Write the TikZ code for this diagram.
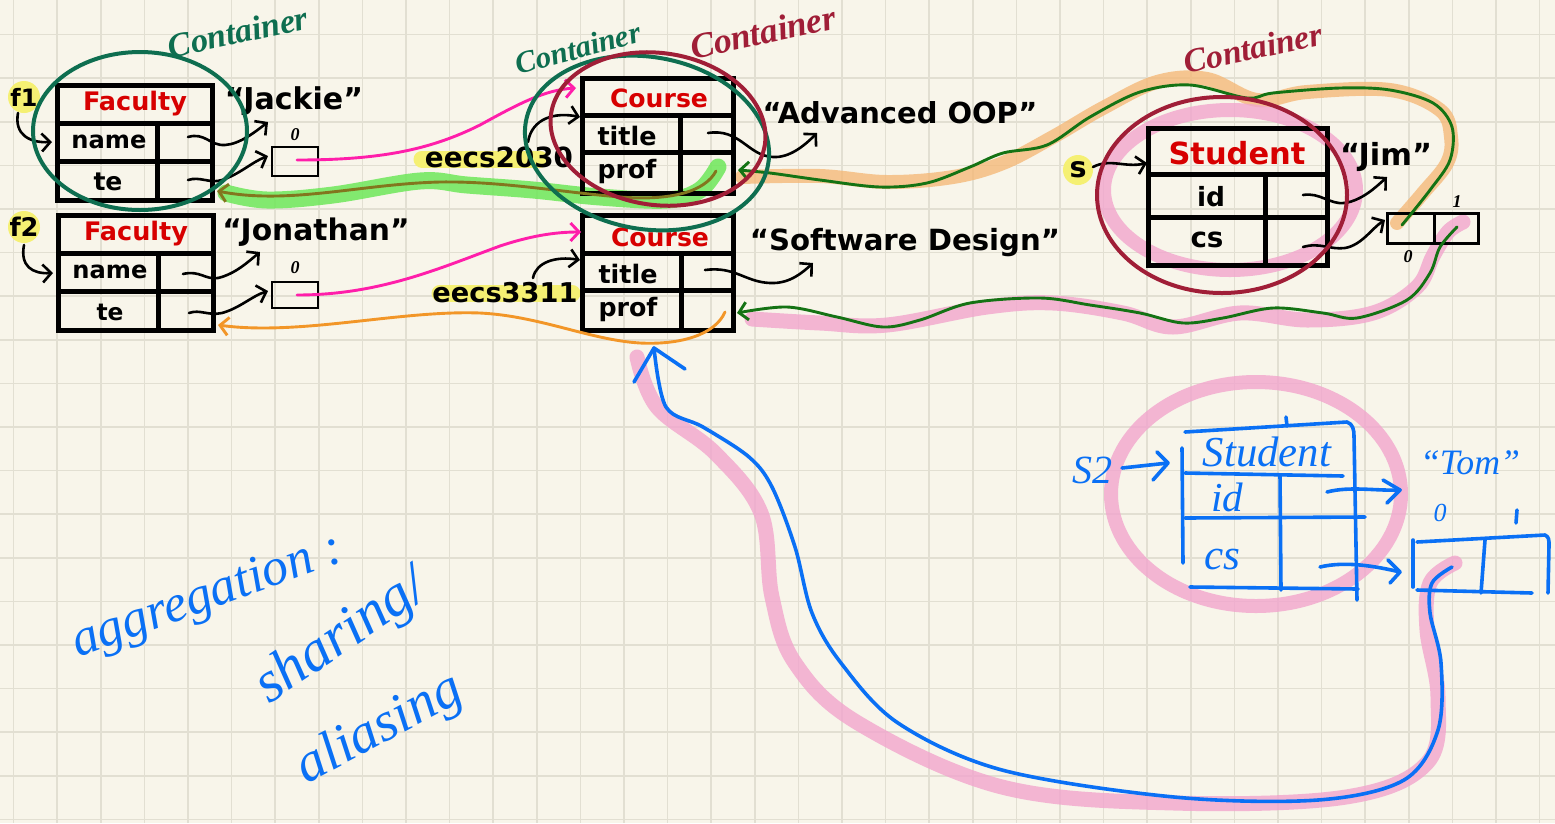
\documentclass[tikz,border=0pt]{standalone}
\usepackage{fontspec}
\setmainfont{DejaVu Sans}
\newfontfamily\handfont{Liberation Serif}
\usetikzlibrary{arrows.meta}

\definecolor{paper}{RGB}{248,245,234}
\definecolor{gridc}{RGB}{226,223,210}
\definecolor{objred}{RGB}{215,0,0}
\definecolor{contgreen}{RGB}{14,110,80}
\definecolor{contred}{RGB}{160,30,55}
\definecolor{linkgreen}{RGB}{20,115,20}
\definecolor{mag}{RGB}{255,30,170}
\definecolor{orng}{RGB}{242,150,40}
\definecolor{olivelink}{RGB}{130,118,30}
\definecolor{hlgreen}{RGB}{110,232,90}
\definecolor{hlorange}{RGB}{245,182,115}
\definecolor{hlpink}{RGB}{242,165,205}
\definecolor{hlyellow}{RGB}{245,240,115}
\definecolor{ink}{RGB}{10,112,245}

\newcommand\fitbox[2]{\resizebox{#1pt}{!}{#2}}

\tikzset{
  objbox/.style={draw=black, line width=5pt},
  cell/.style={draw=black, line width=2.6pt},
  lbl/.style={inner sep=0pt, font=\bfseries},
  barb/.tip={Straight Barb[length=8.5pt,width=18pt]},
  ptr/.style={black, line width=2.6pt, line cap=round, -barb},
  thinlink/.style={line width=2.9pt, line cap=round, -barb},
  marker/.style={line cap=round, line join=round},
  contell/.style={line width=4pt},
  hand/.style={inner sep=0pt, font=\handfont\itshape},
  inkline/.style={ink, line width=3.6pt, line cap=round, line join=round}
}

\begin{document}
\begin{tikzpicture}[x=1pt,y=-1pt]
\useasboundingbox (0,0) rectangle (1555,823);
\fill[paper] (0,0) rectangle (1555,823);
\foreach \k in {0,...,35} \draw[gridc, line width=1.6pt] ({13.5+43.6*\k},0) -- ({13.5+43.6*\k},823);
\foreach \k in {0,...,18} \draw[gridc, line width=1.6pt] (0,{34.5+43.6*\k}) -- (1555,{34.5+43.6*\k});

% ---------- anchors of the slots ----------
\coordinate (f1name) at (188,137);
\coordinate (f1te)   at (188,180);
\coordinate (f1teR)  at (217,191);
\coordinate (f2name) at (183,274);
\coordinate (f2te)   at (189,313);
\coordinate (f2teR)  at (218,325);
\coordinate (arr1)   at (297,160);
\coordinate (arr2)   at (297,295);
\coordinate (c1head) at (576,88);
\coordinate (c2head) at (581,232);
\coordinate (c1title) at (708,133);
\coordinate (c2title) at (705,270);
\coordinate (c1prof) at (716,171);
\coordinate (c1profR) at (738,170);
\coordinate (c2prof) at (725,312);
\coordinate (c2profR) at (737,313);
\coordinate (sid) at (1303,195);
\coordinate (scs) at (1303,247);
\coordinate (sa0) at (1402,225);
\coordinate (sa1) at (1457,227);

% ---------- highlighter strokes ----------
\fill[hlyellow] (24,97) circle [radius=16];
\fill[hlyellow] (24,227) circle [radius=16];
\fill[hlyellow] (1078,170) circle [radius=15];
\draw[hlyellow, line width=17pt, line cap=round] (422,159) -- (540,159);
\draw[hlyellow, line width=17pt, line cap=round] (440,293) -- (572,293);

\draw[hlgreen, opacity=0.85, marker, line width=17pt]
  plot[smooth, tension=0.6] coordinates {(718,167) (700,190) (667,200) (600,197) (533,190) (467,185) (420,181) (333,195) (267,200) (226,193)};

\draw[hlorange, opacity=0.75, marker, line width=14pt]
  plot[smooth, tension=0.6] coordinates {(742,177) (820,176) (887,182) (953,177) (1003,163) (1053,137) (1103,108) (1157,82) (1207,79) (1257,100) (1307,92) (1390,90) (1440,110) (1451,137) (1447,163) (1423,193) (1397,223)};

\draw[hlpink, opacity=0.8, marker, line width=15pt]
  plot[smooth, tension=0.6] coordinates {(1463,222) (1448,232) (1433,256) (1417,287) (1373,313) (1307,320) (1240,313) (1173,327) (1123,313) (1053,303) (987,307) (887,325) (820,323) (752,319)};

\draw[hlpink, opacity=0.8, line width=14pt] (1230,190) ellipse [x radius=126, y radius=80];
\draw[hlpink, opacity=0.8, line width=14pt] (1256,494) ellipse [x radius=145, y radius=112];

\draw[hlpink, opacity=0.8, marker, line width=15pt]
  plot[smooth, tension=0.6] coordinates {(1455,563) (1430,583) (1427,630) (1438,697) (1427,763) (1346,797) (1174,803) (1002,787) (858,723) (795,663) (772,597) (761,513) (715,453) (657,407) (637,357)};

% ---------- Faculty objects ----------
\draw[objbox] (57,85) rectangle (212,200);
\draw[objbox] (57,123) -- (212,123) (57,161) -- (212,161) (157,123) -- (157,200);
\node[lbl, text=objred] (fac1) at (135,104) {\fitbox{104}{Faculty}};
\node[lbl] (f1n) at (109,142) {\fitbox{75}{name}};
\node[lbl] (f1t) at (108,182) {\fitbox{29}{te}};

\draw[objbox] (58,215) rectangle (213,330);
\draw[objbox] (58,253) -- (213,253) (58,291) -- (213,291) (158,253) -- (158,330);
\node[lbl, text=objred] (fac2) at (136,234) {\fitbox{104}{Faculty}};
\node[lbl] (f2n) at (110,272) {\fitbox{75}{name}};
\node[lbl] (f2t) at (110,312) {\fitbox{27}{te}};

\node[lbl] (f1lab) at (24,97) {\fitbox{27}{f1}};
\node[lbl] (f2lab) at (24,227) {\fitbox{29}{f2}};

\node[lbl] (jackie) at (294,101) {\fitbox{138}{“Jackie”}};
\node[lbl] (jonathan) at (316,232) {\fitbox{187}{“Jonathan”}};

\draw[cell] (272,147) rectangle (318,176);
\draw[cell] (272,282) rectangle (318,308);
\node[hand, font=\handfont\itshape\bfseries\fontsize{18}{18}\selectfont] (z1) at (295,135) {0};
\node[hand, font=\handfont\itshape\bfseries\fontsize{18}{18}\selectfont] (z2) at (295,268) {0};

% ---------- Course objects ----------
\draw[objbox] (582,78) rectangle (733,193);
\draw[objbox] (582,115) -- (733,115) (582,152) -- (733,152) (680,115) -- (680,193);
\node[lbl, text=objred] (crs1) at (659,98) {\fitbox{98}{Course}};
\node[lbl] (c1t) at (627,136) {\fitbox{59}{title}};
\node[lbl] (c1p) at (627,172) {\fitbox{59}{prof}};

\draw[objbox] (582,215) rectangle (733,330);
\draw[objbox] (582,253) -- (733,253) (582,290) -- (733,290) (681,253) -- (681,330);
\node[lbl, text=objred] (crs2) at (660,237) {\fitbox{98}{Course}};
\node[lbl] (c2t) at (628,274) {\fitbox{59}{title}};
\node[lbl] (c2p) at (628,310) {\fitbox{59}{prof}};

\node[lbl] (e2030) at (499,157) {\fitbox{148}{eecs2030}};
\node[lbl] (e3311) at (505,293) {\fitbox{145}{eecs3311}};
\node[lbl] (aoop) at (900,113) {\fitbox{275}{“Advanced OOP”}};
\node[lbl] (sd) at (905,243) {\fitbox{310}{“Software Design”}};

% ---------- Student object ----------
\draw[objbox] (1148,128) rectangle (1327,265);
\draw[objbox] (1148,174) -- (1327,174) (1148,217) -- (1327,217) (1265,174) -- (1265,265);
\node[lbl, text=objred] (stu) at (1237,153) {\fitbox{137}{Student}};
\node[lbl] (sidl) at (1211,197) {\fitbox{28}{id}};
\node[lbl] (scsl) at (1207,240) {\fitbox{33}{cs}};
\node[lbl] (slab) at (1078,170) {\fitbox{17}{s}};
\node[lbl] (jim) at (1386,157) {\fitbox{92}{“Jim”}};
\draw[cell, line width=3pt] (1387,213) rectangle (1478,243);
\draw[cell, line width=3pt] (1434,213) -- (1434,243);
\node[hand, font=\handfont\itshape\bfseries\fontsize{18}{18}\selectfont] (z3) at (1408,257) {0};
\node[hand, font=\handfont\itshape\bfseries\fontsize{18}{18}\selectfont] (o3) at (1457,202) {1};

% ---------- reference arrows ----------
\draw[ptr] (18,113) .. controls (14,135) and (30,143) .. (52,142);
\draw[ptr] (24,245) .. controls (20,266) and (32,274) .. (53,273);
\draw[ptr] (f1name) .. controls (205,132) and (210,146) .. (225,145) .. controls (240,144) and (255,132) .. (268,122);
\draw[ptr] (f1te) .. controls (200,176) and (210,184) .. (222,180) .. controls (240,174) and (252,162) .. (268,156);
\draw[ptr] (f2name) .. controls (200,270) and (205,280) .. (218,278) .. controls (235,274) and (248,262) .. (260,252);
\draw[ptr] (f2te) .. controls (200,309) and (208,316) .. (222,313) .. controls (240,308) and (252,296) .. (268,291);
\draw[ptr] (528,142) .. controls (532,118) and (555,112) .. (580,117);
\draw[ptr] (533,278) .. controls (536,262) and (556,256) .. (580,260);
\draw[ptr] (c1title) .. controls (740,128) and (748,156) .. (773,157) .. controls (790,158) and (805,145) .. (817,133);
\draw[ptr] (c2title) .. controls (735,266) and (745,282) .. (770,283) .. controls (790,284) and (803,272) .. (813,263);
\draw[ptr] (1093,167) .. controls (1110,158) and (1125,168) .. (1147,163);
\draw[ptr] (sid) .. controls (1320,192) and (1330,205) .. (1345,203) .. controls (1362,200) and (1375,188) .. (1387,177);
\draw[ptr] (scs) .. controls (1320,242) and (1330,250) .. (1345,248) .. controls (1362,245) and (1372,228) .. (1385,220);

% array elements pointing at the courses
\draw[thinlink, mag] (arr1) .. controls (380,160) and (430,150) .. (480,125) .. controls (520,103) and (545,90) .. (c1head);
\draw[thinlink, mag] (arr2) .. controls (380,295) and (440,268) .. (500,246) .. controls (530,236) and (555,232) .. (c2head);

% courses pointing back at their professors
\draw[thinlink, olivelink]
  (c1prof) .. controls (705,192) and (670,201) .. (620,197) .. controls (560,192) and (500,181) .. (440,182) .. controls (360,184) and (290,205) .. (f1teR);
\draw[thinlink, orng]
  (c2prof) .. controls (715,335) and (680,345) .. (640,343) .. controls (590,340) and (540,316) .. (480,313) .. controls (400,310) and (300,336) .. (f2teR);

% student's course list
\draw[thinlink, linkgreen]
  plot[smooth, tension=0.55] coordinates {(sa0) (1430,190) (1450,160) (1452,127) (1433,103) (1390,90) (1340,88) (1273,93) (1247,98) (1190,85) (1140,92) (1090,117) (1047,145) (1003,153) (970,167) (927,183) (880,187) (820,180) (770,173) (c1profR)};
\draw[thinlink, linkgreen]
  plot[smooth, tension=0.55] coordinates {(sa1) (1440,247) (1430,273) (1407,300) (1357,318) (1323,313) (1273,308) (1223,318) (1183,323) (1140,313) (1090,305) (1040,298) (970,303) (920,320) (883,327) (837,317) (787,307) (c2profR)};

% ---------- container rings ----------
\draw[contgreen, contell] (140,131) ellipse [x radius=107, y radius=79];
\draw[contgreen, contell, rotate around={-10:(647,143)}] (647,143) ellipse [x radius=123, y radius=86];
\draw[contred, contell, rotate around={-8:(658,129)}] (658,129) ellipse [x radius=108, y radius=76];
\draw[contred, contell] (1222,195) ellipse [x radius=125, y radius=98];

\node[hand, text=contgreen, rotate=12, font=\handfont\itshape\bfseries] (cg1) at (238,32) {\fitbox{142}{Container}};
\node[hand, text=contgreen, rotate=15, font=\handfont\itshape\bfseries] (cg2) at (578,48) {\fitbox{128}{Container}};
\node[hand, text=contred, rotate=12, font=\handfont\itshape\bfseries] (cr1) at (763,32) {\fitbox{148}{Container}};
\node[hand, text=contred, rotate=12, font=\handfont\itshape\bfseries] (cr2) at (1253,48) {\fitbox{140}{Container}};

% ---------- second student, drawn by hand ----------
\draw[inkline] (1185,432) -- (1347,422) .. controls (1353,424) and (1354,430) .. (1354,436) -- (1357,600);
\draw[inkline] (1286,417) -- (1287,426);
\draw[inkline] (1182,448) -- (1183,563);
\draw[inkline] (1185,473) -- (1343,476);
\draw[inkline] (1185,518) -- (1365,517);
\draw[inkline] (1190,587) -- (1358,589);
\draw[inkline] (1280,475) -- (1281,590);
\node[hand, text=ink] (stu2) at (1267,452) {\fitbox{128}{Student}};
\node[hand, text=ink] (id2) at (1227,497) {\fitbox{32}{id}};
\node[hand, text=ink] (cs2) at (1222,560) {\fitbox{36}{cs}};
\node[hand, text=ink] (s2lab) at (1092,470) {\fitbox{40}{S2}};
\node[hand, text=ink] (tom) at (1470,463) {\fitbox{100}{“Tom”}};
\node[hand, text=ink, font=\handfont\itshape\fontsize{26}{26}\selectfont] (z4) at (1440,513) {0};
\draw[inkline] (1517,510) -- (1516,523);
\draw[inkline] (1122,468) -- (1168,463);
\draw[inkline] (1157,452) -- (1168,463) -- (1153,480);
\draw[inkline] (1327,492) .. controls (1350,486) and (1375,491) .. (1400,490);
\draw[inkline] (1383,480) -- (1400,490) -- (1387,503);
\draw[inkline] (1320,567) .. controls (1345,561) and (1375,566) .. (1400,572);
\draw[inkline] (1388,560) -- (1400,572) -- (1390,583);
\draw[inkline] (1413,540) -- (1413,587);
\draw[inkline] (1417,542) -- (1545,535) .. controls (1549,537) and (1549,540) .. (1549,545) -- (1548,593);
\draw[inkline] (1417,590) -- (1532,593);
\draw[inkline] (1485,540) -- (1481,593);

% shared course: the second student's list points at the same course
\draw[inkline]
  plot[smooth, tension=0.55] coordinates {(1452,567) (1432,583) (1430,613) (1441,663) (1438,730) (1404,780) (1318,800) (1174,797) (1002,770) (898,723) (841,663) (812,613) (795,547) (772,487) (749,457) (703,427) (666,407) (654,348)};
\draw[inkline] (634,382) -- (654,348) -- (685,369);

% ---------- note ----------
\node[hand, text=ink, rotate=20] (note1) at (208,598) {\fitbox{285}{aggregation :}};
\node[hand, text=ink, rotate=34] (note2) at (342,638) {\fitbox{195}{sharing/}};
\node[hand, text=ink, rotate=28] (note3) at (380,730) {\fitbox{180}{aliasing}};
\end{tikzpicture}
\end{document}
